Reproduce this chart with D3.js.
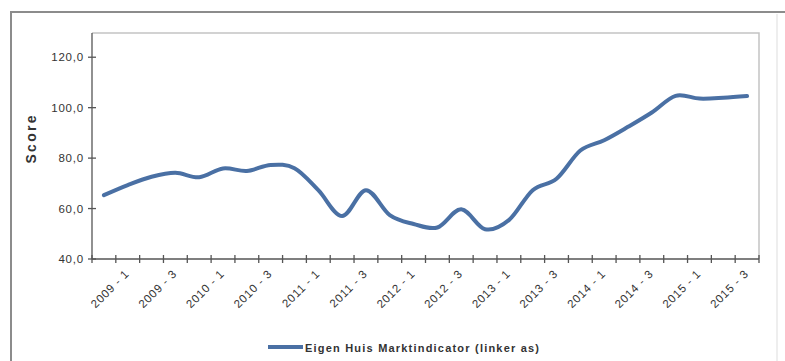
<!DOCTYPE html>
<html>
<head>
<meta charset="utf-8">
<script src="https://cdn.jsdelivr.net/npm/d3@7"></script>
<style>
  html, body { margin: 0; padding: 0; background: #ffffff; }
  svg { display: block; }
  text { font-family: "Liberation Sans", Arial, sans-serif; fill: #333333; }
</style>
</head>
<body>
<svg id="chart" width="785" height="361"></svg>
<script>
// ---- data ----
const categories = [
  "2009 - 1","2009 - 2","2009 - 3","2009 - 4",
  "2010 - 1","2010 - 2","2010 - 3","2010 - 4",
  "2011 - 1","2011 - 2","2011 - 3","2011 - 4",
  "2012 - 1","2012 - 2","2012 - 3","2012 - 4",
  "2013 - 1","2013 - 2","2013 - 3","2013 - 4",
  "2014 - 1","2014 - 2","2014 - 3","2014 - 4",
  "2015 - 1","2015 - 2","2015 - 3","2015 - 4"
];
const marktindicator = [
  65.3, 69.3, 72.6, 74.2,
  72.4, 75.9, 74.9, 77.3,
  76.0, 67.3, 57.0, 67.3,
  57.4, 53.9, 52.5, 59.7,
  51.8, 55.4, 67.3, 71.8,
  83.0, 87.1, 92.4, 98.1,
  104.7, 103.6, 103.9, 104.6
];
const yTickValues = [40, 60, 80, 100, 120];
const xLabelEvery = 2;
const seriesName = "Eigen Huis Marktindicator (linker as)";
const yTitle = "Score";

// ---- layout ----
const svg = d3.select("#chart");
const plot = { left: 92, right: 759, top: 32, bottom: 259 };
const lineColor = "#4a70a4";
const axisColor = "#555555";

const x = d3.scaleBand().domain(categories).range([plot.left, plot.right]).padding(0);
const y = d3.scaleLinear().domain([40, 130]).range([plot.bottom, plot.top]);
const cx = c => x(c) + x.bandwidth() / 2;

const nl = d3.formatLocale({ decimal: ",", thousands: ".", grouping: [3], currency: ["€", ""] });
const fmt = nl.format(".1f");

// outer frame
svg.append("path")
  .attr("d", `M11,361 L11,12 L785,12`)
  .attr("fill", "none").attr("stroke", "#8c8c8c").attr("stroke-width", 2);
svg.append("line")
  .attr("x1", 777).attr("x2", 777).attr("y1", 14).attr("y2", 361)
  .attr("stroke", "#e8e8e8").attr("stroke-width", 1.5);

// plot area border (top and right)
svg.append("path")
  .attr("d", `M${plot.left},${plot.top + 1} L${plot.right},${plot.top + 1} L${plot.right},${plot.bottom}`)
  .attr("fill", "none").attr("stroke", "#c4c4c4").attr("stroke-width", 1.5);

// y axis
svg.append("line")
  .attr("x1", plot.left).attr("x2", plot.left)
  .attr("y1", plot.top + 1).attr("y2", plot.bottom)
  .attr("stroke", axisColor).attr("stroke-width", 1.3);
const yt = svg.append("g");
yt.selectAll("line").data(yTickValues).join("line")
  .attr("x1", plot.left - 4).attr("x2", plot.left + 4)
  .attr("y1", d => y(d)).attr("y2", d => y(d))
  .attr("stroke", axisColor).attr("stroke-width", 1.3);
yt.selectAll("text").data(yTickValues).join("text")
  .attr("x", 84).attr("y", d => y(d)).attr("dy", "0.36em")
  .attr("text-anchor", "end")
  .attr("font-size", 11.5).attr("letter-spacing", "0.8px")
  .text(d => fmt(d));

// y title
svg.append("text")
  .attr("transform", "translate(36,139.5) rotate(-90)")
  .attr("text-anchor", "middle")
  .attr("font-size", 14).attr("font-weight", "bold")
  .attr("textLength", 48).attr("lengthAdjust", "spacing")
  .attr("fill", "#2a2a2a")
  .text(yTitle);

// x axis
svg.append("line")
  .attr("x1", plot.left).attr("x2", plot.right)
  .attr("y1", plot.bottom).attr("y2", plot.bottom)
  .attr("stroke", axisColor).attr("stroke-width", 1.3);
const boundaries = categories.map(c => x(c)).concat([x(categories[categories.length - 1]) + x.bandwidth()]);
svg.append("g").selectAll("line").data(boundaries).join("line")
  .attr("x1", d => d).attr("x2", d => d)
  .attr("y1", plot.bottom - 4).attr("y2", plot.bottom + 4)
  .attr("stroke", axisColor).attr("stroke-width", 1.3);

const labelCats = categories.filter((c, i) => i % xLabelEvery === 0);
svg.append("g").selectAll("text").data(labelCats).join("text")
  .attr("transform", d => `translate(${cx(d) + 26},${plot.bottom + 15.5}) rotate(-45)`)
  .attr("text-anchor", "end")
  .attr("font-size", 11.5).attr("letter-spacing", "0.8px")
  .text(d => d);

// line
const line = d3.line()
  .x((d, i) => cx(categories[i]))
  .y(d => y(d))
  .curve(d3.curveCardinal.tension(0));
svg.append("path")
  .datum(marktindicator)
  .attr("d", line)
  .attr("fill", "none")
  .attr("stroke", lineColor)
  .attr("stroke-width", 4)
  .attr("stroke-linejoin", "round")
  .attr("stroke-linecap", "round");

// legend
svg.append("line")
  .attr("x1", 268).attr("x2", 303).attr("y1", 347).attr("y2", 347)
  .attr("stroke", lineColor).attr("stroke-width", 4);
svg.append("text")
  .attr("x", 305).attr("y", 351.5)
  .attr("font-size", 11).attr("font-weight", "bold")
  .attr("textLength", 234).attr("lengthAdjust", "spacing")
  .attr("fill", "#2a2a2a")
  .text(seriesName);
</script>
</body>
</html>
